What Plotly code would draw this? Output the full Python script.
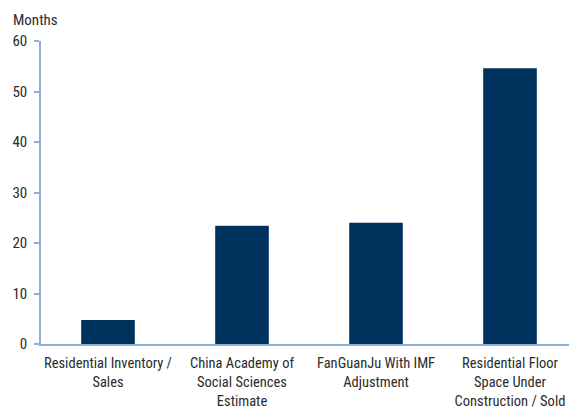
import plotly.graph_objects as go

categories = [
    "Residential Inventory /<br>Sales",
    "China Academy of<br>Social Sciences<br>Estimate",
    "FanGuanJu With IMF<br>Adjustment",
    "Residential Floor<br>Space Under<br>Construction / Sold",
]
values = [4.75, 23.4, 24.0, 54.6]
y_ticks = [0, 10, 20, 30, 40, 50, 60]

FONT = "Roboto Condensed, Liberation Sans Narrow, Roboto, sans-serif"
AXIS = "#8eaedc"
TEXT = "#2b2b2b"

fig = go.Figure(go.Bar(
    x=list(range(len(categories))), y=values,
    marker=dict(color="#00325e", line=dict(width=0)),
    width=0.4,
))

fig.update_layout(
    width=569, height=409,
    margin=dict(l=41, r=0, t=41, b=65, pad=0),
    paper_bgcolor="white", plot_bgcolor="white",
    showlegend=False,
    font=dict(family=FONT, size=15, color=TEXT),
    xaxis=dict(
        tickmode="array", tickvals=list(range(len(categories))), ticktext=categories,
        range=[-0.5, -0.5 + 528 / 134], showgrid=False, zeroline=False,
        showline=True, linecolor=AXIS, linewidth=1.5, ticks="",
        tickangle=0, ticklabeloverflow="allow", ticklabelstandoff=5,
        tickfont=dict(family=FONT, size=14.5, color=TEXT),
        fixedrange=True, automargin=False,
    ),
    yaxis=dict(
        range=[0, 60], tickvals=y_ticks, showgrid=False, zeroline=False,
        showline=True, linecolor=AXIS, linewidth=1.5,
        ticks="outside", ticklen=5, tickcolor=AXIS, tickwidth=1.5,
        tickfont=dict(family=FONT, size=15, color=TEXT),
        ticklabelstandoff=4, automargin=False, fixedrange=True,
    ),
    annotations=[dict(
        text="Months", xref="paper", yref="paper", x=-41 / 528, y=1,
        xanchor="left", yanchor="bottom", yshift=10, xshift=11, showarrow=False,
        font=dict(family=FONT, size=15, color=TEXT),
    )],
)

fig.write_html(
    "out.html",
    config={"displayModeBar": False},
    post_script="document.body.style.margin='0';document.body.style.padding='0';",
)
